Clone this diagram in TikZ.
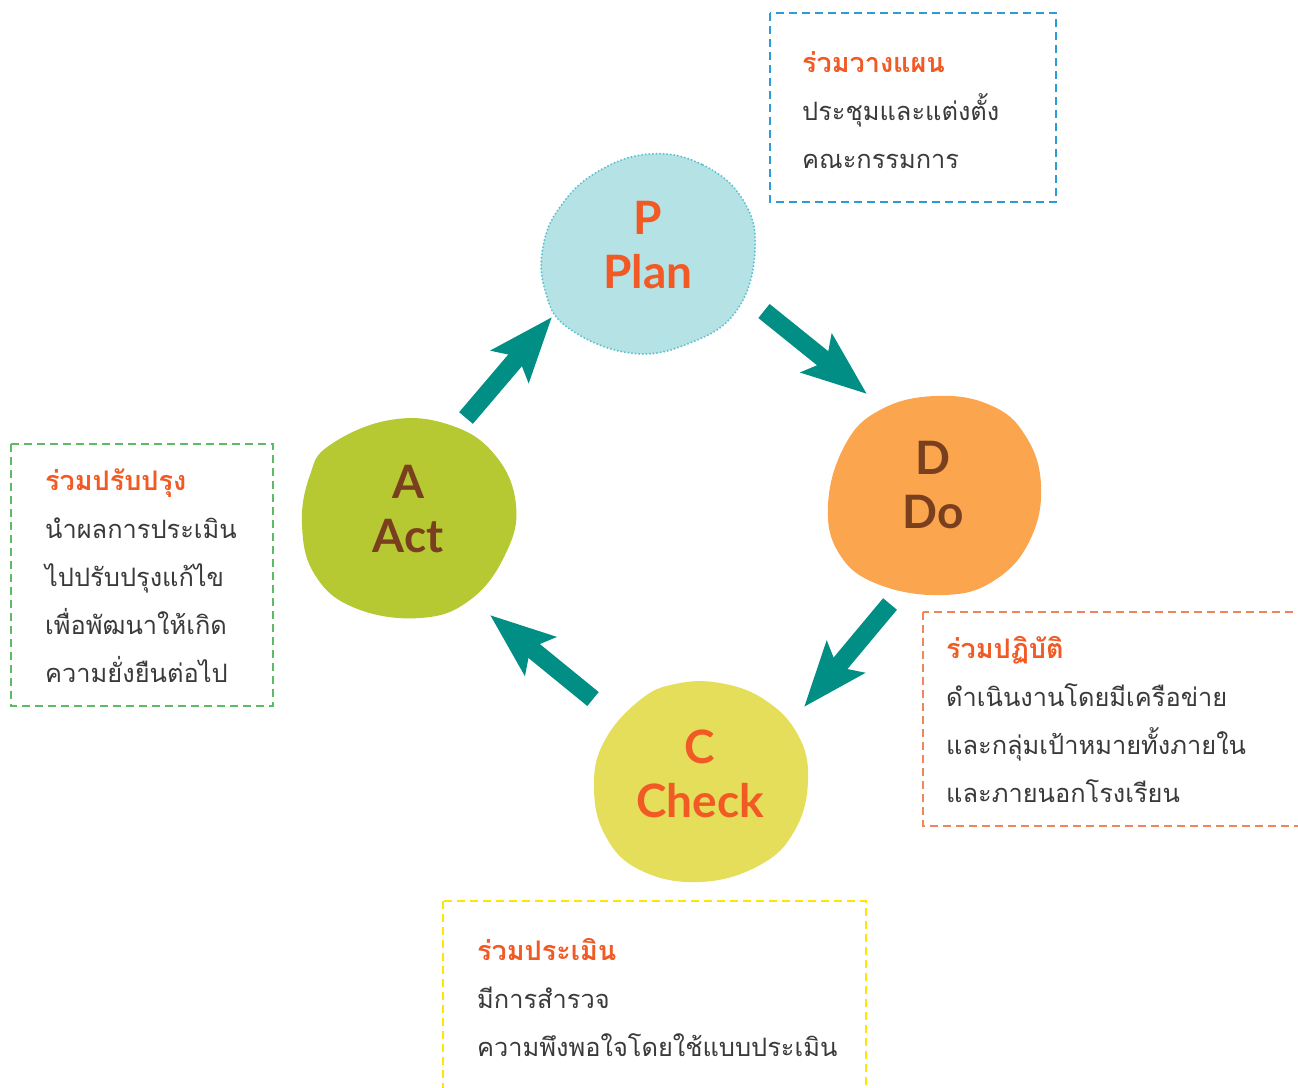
\documentclass[tikz,border=0pt]{standalone}
\usepackage{fontspec}
\newfontfamily\thaifont[Script=Thai]{Loma}
\newfontfamily\labfont{Lato}
\usetikzlibrary{arrows.meta}
\definecolor{arrteal}{HTML}{008E85}
\definecolor{headc}{HTML}{F15A24}
\definecolor{bodyc}{HTML}{3A3A3A}
\definecolor{brownc}{HTML}{7A3F1E}
\definecolor{planfill}{HTML}{B5E2E5}
\definecolor{planline}{HTML}{5BC2D0}
\definecolor{dofill}{HTML}{FBA54E}
\definecolor{actfill}{HTML}{B6C932}
\definecolor{chkfill}{HTML}{E4DE5A}
\definecolor{bxblue}{HTML}{2D9CD6}
\definecolor{bxgreen}{HTML}{5DBB63}
\definecolor{bxorange}{HTML}{EE8659}
\definecolor{bxyellow}{HTML}{FFE600}
\newcommand{\hd}[1]{\textcolor{headc}{\fontsize{27}{48}\selectfont\bfseries #1}}
\begin{document}
\begin{tikzpicture}[x=1pt,y=-1pt,
  flow/.style={draw=arrteal, line width=18pt, -{Stealth[length=64pt,width=48pt,inset=12pt]}},
  dbox/.style={line width=1.5pt, dash pattern=on 8pt off 5pt},
  tbox/.style={font=\thaifont\fontsize{25.4}{48}\selectfont, text=bodyc, align=left, inner sep=0pt, anchor=base west},
  lab/.style={font=\labfont\bfseries\fontsize{46}{53.5}\selectfont, align=center, inner sep=0pt, anchor=base}
]
\useasboundingbox (0,0) rectangle (1298,1087);
\clip (0,0) rectangle (1298,1087);

% blobs
\fill[planfill] plot[smooth cycle, tension=0.7] coordinates {(650,154) (703,165) (743,200) (755,250) (737,310) (690,343) (630,353) (567,327) (545,290) (543,247) (560,207) (597,172)};
\draw[planline, line width=2.2pt, line cap=round, dash pattern=on 0pt off 3.6pt] plot[smooth cycle, tension=0.7] coordinates {(650,154) (703,165) (743,200) (755,250) (737,310) (690,343) (630,353) (567,327) (545,290) (543,247) (560,207) (597,172)};
\fill[dofill] plot[smooth cycle, tension=0.7] coordinates {(935,396) (990,405) (1025,435) (1041,485) (1030,540) (995,580) (945,595) (880,585) (840,555) (828,505) (845,445) (880,410)};
\fill[actfill] plot[smooth cycle, tension=0.7] coordinates {(390,420) (450,425) (495,455) (516,505) (505,555) (470,600) (420,618) (355,608) (315,575) (302,525) (310,475) (330,445)};
\fill[chkfill] plot[smooth cycle, tension=0.7] coordinates {(675,684) (720,683) (765,700) (798,735) (808,780) (795,830) (760,865) (700,882) (640,870) (605,835) (594,785) (605,740) (640,700)};

% labels (anchor at baseline of last line)
\node[lab, text=headc] (plan) at (648,288) {P\\Plan};
\node[lab, text=brownc] (do) at (933,528) {D\\Do};
\node[lab, text=brownc] (act) at (408,552) {A\\Act};
\node[lab, text=headc] (check) at (700,817) {C\\Check};

% arrows
\coordinate (a1s) at (466,418); \coordinate (a1e) at (552,317);
\coordinate (a2s) at (764,311); \coordinate (a2e) at (867,394);
\coordinate (a3s) at (890,604); \coordinate (a3e) at (804,707);
\coordinate (a4s) at (593,699); \coordinate (a4e) at (490,615);
\draw[flow] (a1s) -- (a1e);
\draw[flow] (a2s) -- (a2e);
\draw[flow] (a3s) -- (a3e);
\draw[flow] (a4s) -- (a4e);

% dashed boxes
\draw[dbox, bxblue] (770,13) rectangle (1056,202);
\draw[dbox, bxgreen] (11,444) rectangle (273,706);
\draw[dbox, bxorange] (923,612) rectangle (1310,826);
\draw[dbox, bxyellow] (443,901) rectangle (866,1100);

% texts (anchor at baseline of last line)
\node[tbox] (tplan) at (802,168) {\hd{ร่วมวางแผน}\\ประชุมและแต่งตั้ง\\คณะกรรมการ};
\node[tbox] (tact) at (45,682) {\hd{ร่วมปรับปรุง}\\นำผลการประเมิน\\ไปปรับปรุงแก้ไข\\เพื่อพัฒนาให้เกิด\\ความยั่งยืนต่อไป};
\node[tbox] (tdo) at (946,802) {\hd{ร่วมปฏิบัติ}\\ดำเนินงานโดยมีเครือข่าย\\และกลุ่มเป้าหมายทั้งภายใน\\และภายนอกโรงเรียน};
\node[tbox] (tchk) at (477,1056) {\hd{ร่วมประเมิน}\\มีการสำรวจ\\ความพึงพอใจโดยใช้แบบประเมิน};
\end{tikzpicture}
\end{document}
